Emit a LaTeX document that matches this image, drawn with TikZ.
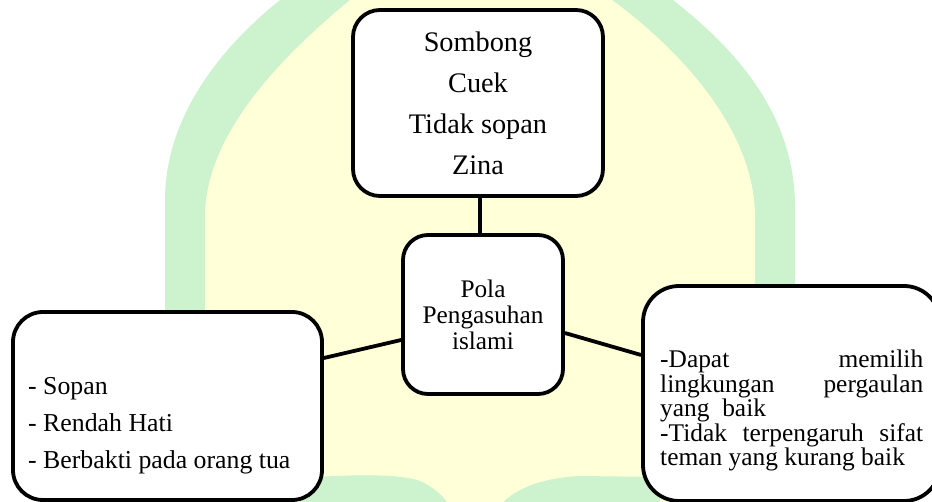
\documentclass[tikz,border=0pt]{standalone}
\usepackage{fontspec}
\setmainfont{Liberation Serif}
\definecolor{wmgreen}{RGB}{205,242,206}
\definecolor{wmyellow}{RGB}{255,255,216}
\begin{document}
\begin{tikzpicture}[x=1pt,y=-1pt,
  box/.style={draw=black, line width=3.8pt, fill=white, inner sep=0pt, rectangle},
  link/.style={draw=black, line width=3.8pt},
  txt/.style={inner sep=0pt, anchor=base west},
  toptext/.style={font=\fontsize{28.3}{41}\selectfont, align=center},
  midtext/.style={font=\fontsize{25.3}{26}\selectfont, align=center},
  lefttext/.style={txt, font=\fontsize{25.8}{30}\selectfont},
  righttext/.style={txt, font=\fontsize{25.4}{30}\selectfont},
]
\useasboundingbox (0,0) rectangle (932,502);
% faint watermark behind the diagram
\begin{scope}
\clip (0,0) rectangle (932,502);
\fill[wmgreen] (165,510) -- (165,200) .. controls (165,110) and (230,40) .. (280,0) -- (290,-10) -- (665,-10) -- (673,0) .. controls (730,45) and (795,110) .. (795,207) -- (795,510) -- cycle;
\fill[wmyellow] (205,510) -- (205,217) .. controls (205,130) and (290,50) .. (350,0) -- (350,-10) -- (612,-10) -- (612,0) .. controls (680,50) and (755,130) .. (755,217) -- (755,510) -- cycle;
\fill[wmgreen] (300,510) -- (300,478) .. controls (360,474) and (400,474) .. (420,481) .. controls (435,488) and (445,497) .. (452,510) -- cycle;
\fill[wmgreen] (497,510) .. controls (510,490) and (540,478) .. (580,476) -- (660,477) -- (660,510) -- cycle;
\end{scope}
% boxes
\node[box, rounded corners=27pt, minimum width=250pt, minimum height=186pt, toptext] (top) at (478,103) {Sombong\\Cuek\\Tidak sopan\\Zina};
\node[box, rounded corners=25pt, minimum width=160pt, minimum height=159pt, midtext] (mid) at (483,314.5) {Pola\\Pengasuhan\\islami};
\node[box, rounded corners=30pt, minimum width=309pt, minimum height=188pt] (left) at (167.5,406) {};
\node[box, rounded corners=36pt, minimum width=297pt, minimum height=215pt] (right) at (791.5,393.5) {};
% left box text
\node[lefttext] (l1) at (28,395) {- Sopan};
\node[lefttext] (l2) at (28,431.7) {- Rendah Hati};
\node[lefttext] (l3) at (28,468.3) {- Berbakti pada orang tua};
% right box text
\node[righttext] (r1) at (660,368) {\makebox[263pt][l]{-Dapat\hfill memilih}};
\node[righttext] (r2) at (660,392.5) {\makebox[263pt][l]{lingkungan\hfill pergaulan}};
\node[righttext] (r3) at (660,417) {yang \ baik};
\node[righttext] (r4) at (660,441.5) {\makebox[263pt][l]{-Tidak\hfill terpengaruh\hfill sifat}};
\node[righttext] (r5) at (660,466) {teman yang kurang baik};
% connectors
\draw[link] ([xshift=2pt]top.south) -- ([xshift=-3pt]mid.north);
\draw[link] ([yshift=-25.5pt]mid.west) -- ([yshift=48pt]left.east);
\draw[link] ([yshift=-18.5pt]mid.east) -- ([yshift=38.5pt]right.west);
\end{tikzpicture}
\end{document}
